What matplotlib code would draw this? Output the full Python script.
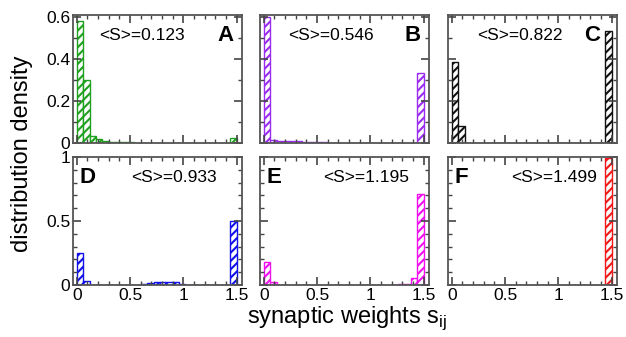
"""Synaptic weight distributions, six panels."""

import numpy as np
from matplotlib import pyplot as plt
from matplotlib.ticker import MultipleLocator

plt.rcParams["font.family"] = ["Liberation Sans", "DejaVu Sans"]
plt.rcParams["hatch.linewidth"] = 1.5
plt.rcParams["mathtext.fontset"] = "custom"
plt.rcParams["mathtext.rm"] = "Liberation Sans"

# histogram bins (width 0.06 from 0 to 1.5)
bin_edges = np.linspace(0, 1.5, 26)

dens_a = [0.58, 0.30, 0.034, 0.02, 0.01, 0.006, 0.004, 0.003, 0.003, 0.002, 0.002, 0.002,
          0.002, 0.002, 0.002, 0.002, 0.002, 0.002, 0.002, 0.002, 0.002, 0.002, 0.002, 0.002, 0.025]
dens_b = [0.60, 0.012, 0.01, 0.01, 0.008, 0.008, 0.006, 0.006, 0.005, 0.004, 0, 0,
          0, 0, 0, 0, 0, 0, 0, 0, 0, 0, 0, 0, 0.335]
dens_c = [0.385, 0.083, 0, 0, 0, 0, 0, 0, 0, 0, 0, 0,
          0, 0, 0, 0, 0, 0, 0, 0, 0, 0, 0, 0, 0.535]
dens_d = [0.25, 0.035, 0, 0, 0, 0, 0, 0, 0, 0, 0.005, 0.015,
          0.022, 0.025, 0.025, 0.02, 0.008, 0, 0, 0, 0, 0, 0, 0, 0.5]
dens_e = [0.18, 0.02, 0, 0, 0, 0, 0, 0, 0, 0, 0, 0,
          0, 0, 0, 0, 0, 0, 0, 0, 0, 0.004, 0.01, 0.055, 0.71]
dens_f = [0, 0, 0, 0, 0, 0, 0, 0, 0, 0, 0, 0,
          0, 0, 0, 0, 0, 0, 0, 0, 0, 0, 0, 0, 0.99]

panel_letters = ["A", "B", "C", "D", "E", "F"]
mean_labels = ["<S>=0.123", "<S>=0.546", "<S>=0.822", "<S>=0.933", "<S>=1.195", "<S>=1.499"]
colors = ["#1fa01f", "#9a2cf0", "#111111", "#1010e8", "#f010f0", "#f01818"]
densities = [dens_a, dens_b, dens_c, dens_d, dens_e, dens_f]

fig = plt.figure(figsize=(6.26, 3.37), dpi=100)

lefts = [73, 260, 448]
tops = [15, 157]
w, h = 169, 128
W, H = 626, 337

# label placement (axes fraction): mean text x, letter x, letter alignment
mean_x = [0.41, 0.42, 0.425, 0.6, 0.63, 0.63]
letter_x = [0.95, 0.95, 0.9, 0.04, 0.04, 0.04]
letter_ha = ["right", "right", "right", "left", "left", "left"]

centers = (bin_edges[:-1] + bin_edges[1:]) / 2
width = bin_edges[1] - bin_edges[0]

for i in range(6):
    row, col = divmod(i, 3)
    ax = fig.add_axes([lefts[col] / W, 1 - (tops[row] + h) / H, w / W, h / H])
    ax.bar(centers, densities[i], width=width, facecolor="white",
           edgecolor=colors[i], hatch="////", linewidth=1.0)

    ax.set_xlim(-0.035, 1.55)
    ax.xaxis.set_major_locator(MultipleLocator(0.5))
    ax.xaxis.set_minor_locator(MultipleLocator(0.1))
    if row == 0:
        ax.set_ylim(0, 0.61)
        ax.yaxis.set_major_locator(MultipleLocator(0.2))
        ax.yaxis.set_minor_locator(MultipleLocator(0.1))
        ax.set_yticklabels(["0" if t == 0 else f"{t:.1f}" for t in ax.get_yticks()])
    else:
        ax.set_ylim(0, 1.0)
        ax.yaxis.set_major_locator(MultipleLocator(0.5))
        ax.yaxis.set_minor_locator(MultipleLocator(0.1))
        ax.set_yticklabels(["0" if t == 0 else f"{t:g}" for t in ax.get_yticks()])
    ax.set_xticklabels([f"{t:g}" for t in ax.get_xticks()])

    ax.tick_params(which="both", direction="in", top=True, right=True,
                   color="#444444", labelsize=12.5, pad=2)
    ax.tick_params(which="major", length=6, width=1.2)
    ax.tick_params(which="minor", length=3, width=1.0)
    for spine in ax.spines.values():
        spine.set_color("#555555")
        spine.set_linewidth(1.3)

    if col != 0:
        ax.tick_params(labelleft=False)
    if row == 0:
        ax.tick_params(labelbottom=False)

    ax.text(mean_x[i], 0.84, mean_labels[i], transform=ax.transAxes,
            ha="center", va="center", fontsize=12.5)
    ax.text(letter_x[i], 0.84, panel_letters[i], transform=ax.transAxes,
            ha=letter_ha[i], va="center", fontsize=16, fontweight="bold")

fig.text(0.035, 0.545, "distribution density", rotation=90,
         ha="center", va="center", fontsize=17)
fig.text(0.555, 0.055, r"synaptic weights s$_{\mathregular{ij}}$",
         ha="center", va="center", fontsize=17)

fig.savefig("out.png", dpi=100)
